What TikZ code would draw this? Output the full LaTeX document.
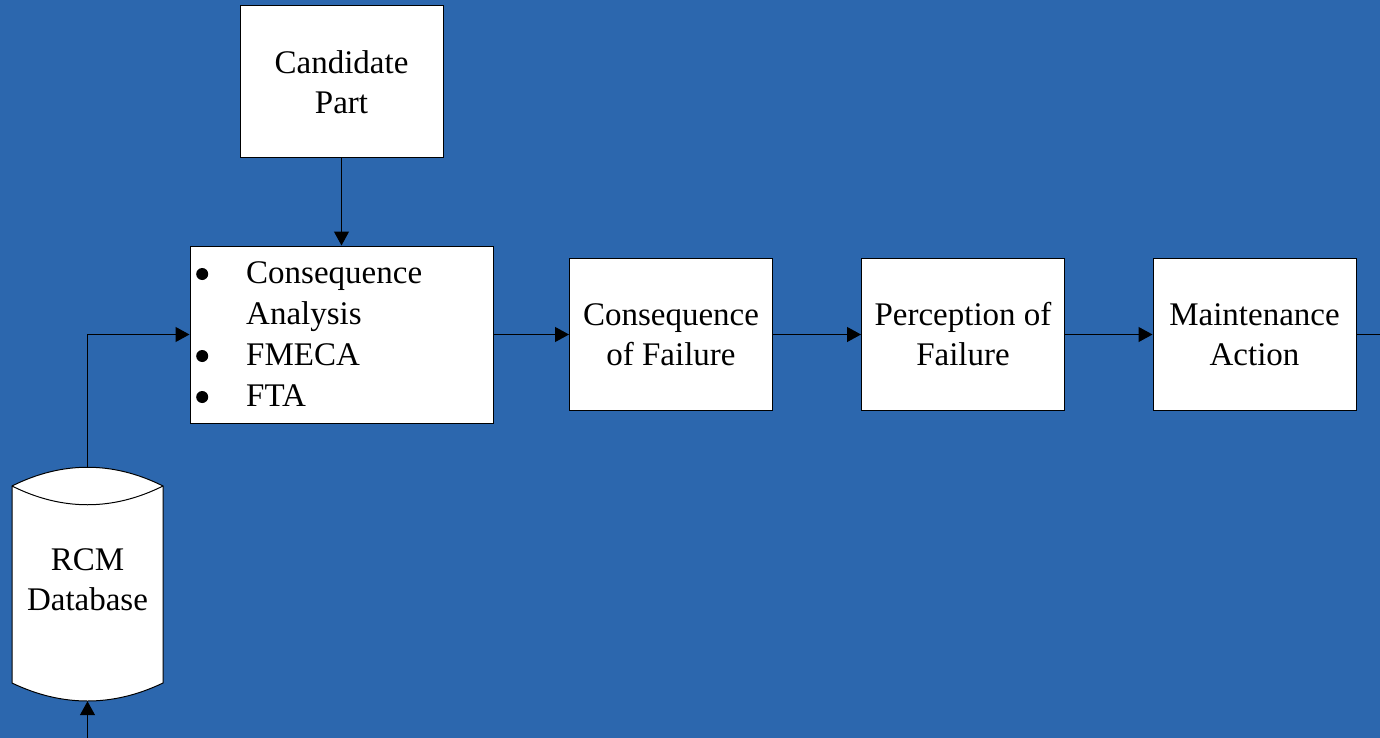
\documentclass[tikz,border=0pt]{standalone}
\usepackage{fontspec}
\setmainfont{Liberation Serif}
\usetikzlibrary{arrows.meta}
\definecolor{bgblue}{RGB}{44,103,174}
\newcommand\mybul{\tikz[baseline=0pt]\fill[black] (6.5pt,0.3em) circle (6pt);}
\tikzset{
  box/.style={draw=black, fill=white, line width=1pt, inner sep=0pt, align=center,
    font=\fontsize{33}{40}\selectfont, minimum width=203pt, minimum height=152pt},
  conn/.style={draw=black, line width=1.2pt},
  arr/.style={conn, -{Triangle[length=14pt,width=15pt]}},
}
\begin{document}
\begin{tikzpicture}[x=1pt,y=-1pt]
\fill[bgblue] (0,0) rectangle (1380,738);
\useasboundingbox (0,0) rectangle (1380,738);

\node[box] (cand) at (341.5,82) {Candidate\\Part};
\node[box, minimum width=303pt, minimum height=177pt] (ana) at (341.5,334.5) {};
\node[anchor=west, align=left, inner sep=0pt, font=\fontsize{33}{41}\selectfont] (anatext) at (196,334.5)
  {\makebox[50pt][l]{\mybul}Consequence\\\makebox[50pt][l]{}Analysis\\\makebox[50pt][l]{\mybul}FMECA\\\makebox[50pt][l]{\mybul}FTA};
\node[box] (cons) at (671,334.5) {Consequence\\of Failure};
\node[box] (perc) at (963,334.5) {Perception of\\Failure};
\node[box] (maint) at (1254.5,334.5) {Maintenance\\Action};

% database cylinder
\draw[fill=white, line width=1pt]
  (12,486) .. controls (62,461) and (113,461) .. (163,486)
  -- (163,683) .. controls (113,707) and (62,707) .. (12,683) -- cycle;
\draw[line width=1pt] (12,486) .. controls (62,511) and (113,511) .. (163,486);
\node[minimum width=151pt, minimum height=234pt, inner sep=0pt, align=center,
  font=\fontsize{33}{40}\selectfont] (db) at (87.5,584) {};
\node[inner sep=0pt, align=center, font=\fontsize{33}{40}\selectfont] (dbtext) at (87.5,580) {RCM\\Database};

\coordinate (rightend) at (1380,334.5);
\coordinate (bottomend) at (87.5,738);

\draw[arr] (cand) -- (ana);
\draw[arr] (db.north) |- (ana.west);
\draw[arr] (ana) -- (cons);
\draw[arr] (cons) -- (perc);
\draw[arr] (perc) -- (maint);
\draw[conn] (maint) -- (rightend);
\draw[arr] (bottomend) -- (db.south);
\end{tikzpicture}
\end{document}
